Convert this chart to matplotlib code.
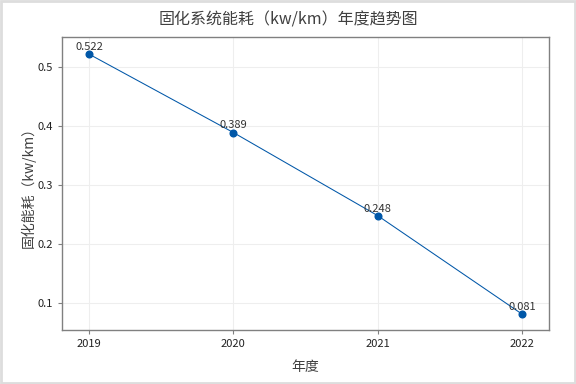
import matplotlib
matplotlib.use("Agg")
import matplotlib.pyplot as plt
from matplotlib.patches import Rectangle

plt.rcParams['font.family'] = ['Noto Sans CJK SC', 'DejaVu Sans']

# 数据
years = [2019, 2020, 2021, 2022]
energy = [0.522, 0.389, 0.248, 0.081]
labels = ["0.522", "0.389", "0.248", "0.081"]

fig = plt.figure(figsize=(5.76, 3.84), dpi=100)
ax = fig.add_axes([62 / 576, 1 - 330 / 384, 487 / 576, 293 / 384])

line_color = "#0057a8"
ax.plot(years, energy, color=line_color, linewidth=0.75, marker="o",
        markersize=4.8, markerfacecolor=line_color, markeredgecolor=line_color)

for x, y, t in zip(years, energy, labels):
    ax.annotate(t, (x, y), xytext=(0, 1.5), textcoords="offset points",
                ha="center", va="bottom", fontsize=8, color="#333333")

ax.set_xlim(2018.813, 2022.187)
ax.set_ylim(0.054, 0.551)
ax.set_xticks(years)
ax.set_yticks([0.1, 0.2, 0.3, 0.4, 0.5])
ax.set_yticklabels(["0.1", "0.2", "0.3", "0.4", "0.5"])

ax.grid(True, color="#eeeeee", linewidth=0.8)
ax.set_axisbelow(True)
for s in ax.spines.values():
    s.set_color("#808080")
    s.set_linewidth(1.0)
ax.tick_params(axis="both", labelsize=8, colors="#808080", labelcolor="#222222",
               length=3, width=0.8)

ax.set_xlabel("年度", fontsize=10, color="#404040", labelpad=8)
ax.set_ylabel("固化能耗（kw/km）", fontsize=10, color="#404040", labelpad=1)
fig.suptitle("固化系统能耗（kw/km）年度趋势图", fontsize=11.5, color="#404040", y=0.97)

# 外边框
fig.patches.append(Rectangle((0.002, 0.003), 0.996, 0.994, transform=fig.transFigure,
                             fill=False, edgecolor="#dddddd", linewidth=2))

fig.savefig("out.png", dpi=100)
